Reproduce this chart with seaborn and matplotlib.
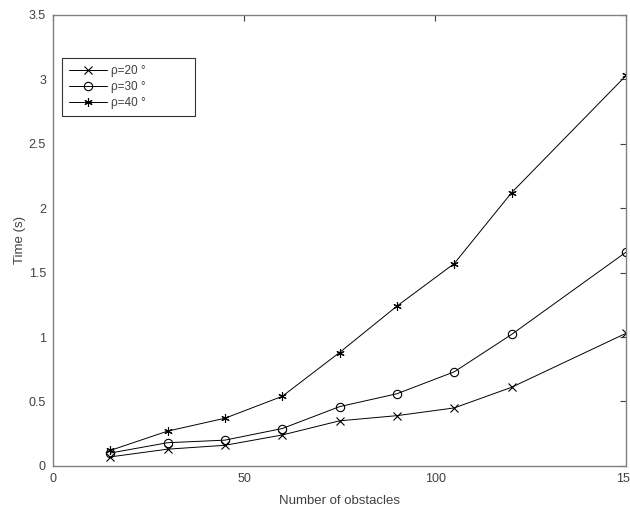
import matplotlib
matplotlib.use('Agg')
import matplotlib.pyplot as plt
import seaborn as sns
import pandas as pd

obstacles = [15, 30, 45, 60, 75, 90, 105, 120, 150]
time_rho20 = [0.07, 0.13, 0.16, 0.24, 0.35, 0.39, 0.45, 0.61, 1.03]
time_rho30 = [0.10, 0.18, 0.20, 0.29, 0.46, 0.56, 0.73, 1.02, 1.66]
time_rho40 = [0.12, 0.27, 0.37, 0.54, 0.88, 1.24, 1.57, 2.12, 3.03]
labels = ['ρ=20 °', 'ρ=30 °', 'ρ=40 °']

sns.set_style('white')
plt.rcParams['font.family'] = ['Liberation Sans', 'DejaVu Sans']

df = pd.DataFrame({
    'obstacles': obstacles * 3,
    'time': time_rho20 + time_rho30 + time_rho40,
    'series': [labels[0]] * 9 + [labels[1]] * 9 + [labels[2]] * 9,
})

fig = plt.figure(figsize=(6.3, 5.12), dpi=100)
ax = fig.add_axes([0.084, 0.09, 0.91, 0.881])

markers = {labels[0]: 'x', labels[1]: 'o', labels[2]: (6, 2, 0)}
for lab in labels:
    sub = df[df.series == lab]
    sns.lineplot(data=sub, x='obstacles', y='time', ax=ax, color='black',
                 linewidth=0.7, marker=markers[lab], markersize=6,
                 markerfacecolor='none', markeredgecolor='black',
                 markeredgewidth=0.8, label=lab)

ax.set_xlim(0, 150)
ax.set_ylim(0, 3.5)
ax.set_xticks([0, 50, 100, 150])
ax.set_yticks([0, 0.5, 1, 1.5, 2, 2.5, 3, 3.5])
ax.set_yticklabels(['0', '0.5', '1', '1.5', '2', '2.5', '3', '3.5'])
ax.tick_params(direction='in', length=4, labelsize=9, colors='#404040',
               pad=5, top=True, right=True, labeltop=False, labelright=False)
for s in ax.spines.values():
    s.set_color('#808080')
    s.set_linewidth(1.0)
ax.set_xlabel('Number of obstacles', fontsize=9.5, color='#404040',
              labelpad=7)
ax.set_ylabel('Time (s)', fontsize=9.5, color='#404040', labelpad=2)

# box stretched to the width seen in the reference
leg = ax.legend(loc='upper left', bbox_to_anchor=(0.0157, 0.785, 0.232, 0.12),
                mode='expand', borderaxespad=0,
                fontsize=8.5, frameon=True, fancybox=False, handlelength=3.2,
                borderpad=0.6, labelspacing=0.35, handletextpad=0.35)
leg.get_frame().set_edgecolor('black')
leg.get_frame().set_linewidth(0.8)
for t in leg.get_texts():
    t.set_color('#404040')

fig.savefig('out.png', dpi=100)
